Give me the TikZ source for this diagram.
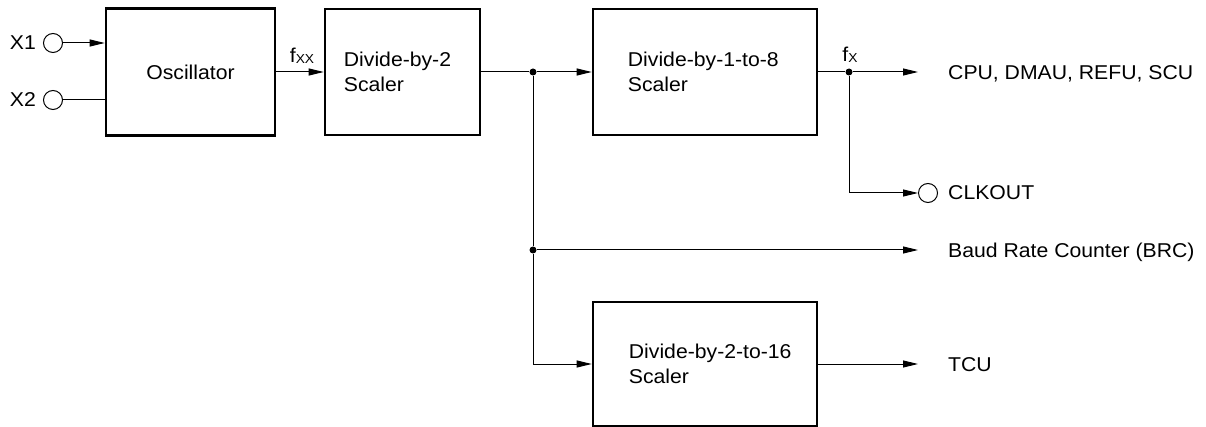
\documentclass[tikz,border=0pt]{standalone}
\usepackage{fontspec}
\setmainfont{Liberation Sans}[FakeStretch=1.06]
\usetikzlibrary{arrows.meta,calc}
\begin{document}
\begin{tikzpicture}[x=1pt,y=-1pt,
  box/.style={draw, line width=2.6pt, rectangle, inner sep=0},
  lbl/.style={font=\fontsize{20}{25}\selectfont, inner sep=0, align=left},
  wire/.style={line width=1pt},
  arr/.style={wire, -{Triangle[length=15pt,width=7pt]}},
  pin/.style={draw, circle, line width=1pt, minimum size=19pt, inner sep=0},
  dot/.style={circle, fill, minimum size=7pt, inner sep=0}]
\useasboundingbox (0,0) rectangle (1206,427);

% boxes
\node[box, minimum width=169pt, minimum height=127pt] (osc) at (190.5,72) {};
\node[lbl] (osct) at (osc.center) {Oscillator};
\node[box, minimum width=155pt, minimum height=126pt] (div2) at (402.5,72) {};
\node[lbl, anchor=west] (div2t) at ([xshift=20pt]div2.west) {Divide-by-2\\Scaler};
\node[box, minimum width=224pt, minimum height=126pt] (div8) at (705,72) {};
\node[lbl, anchor=west] (div8t) at ([xshift=36pt]div8.west) {Divide-by-1-to-8\\Scaler};
\node[box, minimum width=224pt, minimum height=124pt] (div16) at (705,364) {};
\node[lbl, anchor=west] (div16t) at ([xshift=37pt]div16.west) {Divide-by-2-to-16\\Scaler};

% pins
\node[pin] (x1) at (53,43) {};
\node[pin] (x2) at (53,100) {};
\node[lbl, anchor=east] (x1t) at ([xshift=-7pt]x1.west) {X1};
\node[lbl, anchor=east] (x2t) at ([xshift=-7pt]x2.west) {X2};
\node[pin] (clk) at (928,193) {};
\node[lbl, anchor=west] (clkt) at (948,193) {CLKOUT};

% junctions
\node[dot] (j1) at (533,72) {};
\node[dot] (j2) at (533,250) {};
\node[dot] (jfx) at (849,72) {};

% free ends
\coordinate (cpuend) at (918,72);
\coordinate (brcend) at (918,250);
\coordinate (tcuend) at (918,364);

% output texts
\node[lbl, anchor=base west] (cpu) at (948,79.2) {CPU, DMAU, REFU, SCU};
\node[lbl, anchor=base west] (brc) at (948,257.2) {Baud Rate Counter (BRC)};
\node[lbl, anchor=base west] (tcu) at (948,371.2) {TCU};

% frequency labels
\node[lbl, anchor=base] (fxx) at (302,63) {f\raisebox{-1pt}{\fontsize{13}{13}\selectfont XX}};
\node[lbl, anchor=base] (fx) at (850,62) {f\raisebox{-1pt}{\fontsize{13}{13}\selectfont X}};

% connectors
\draw[arr] (x1.east) -- (x1 -| osc.west);
\draw[wire] (x2.east) -- (x2 -| osc.west);
\draw[arr] (osc.east) -- (div2.west);
\draw[wire] (div2.east) -- (j1);
\draw[arr] (j1) -- (div8.west);
\draw[wire] (div8.east) -- (jfx);
\draw[arr] (jfx) -- (cpuend);
\draw[arr] (jfx) |- (clk);
\draw[wire] (j1) -- (j2);
\draw[arr] (j2) -- (brcend);
\draw[arr] (j2) |- (div16.west);
\draw[arr] (div16.east) -- (tcuend);
\end{tikzpicture}
\end{document}
